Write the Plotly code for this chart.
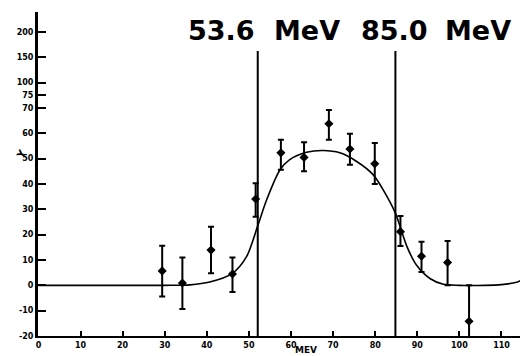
import plotly.graph_objects as go

# measured points (MeV, counts) with asymmetric error bars
x_pts = [29.4, 34.2, 41.0, 46.1, 51.6, 57.6, 63.1, 69.0, 74.0, 79.9, 86.0, 91.0, 97.2, 102.3]
y_pts = [5.7, 0.9, 13.9, 4.5, 34.1, 52.3, 50.5, 63.8, 53.8, 48.0, 21.2, 11.5, 9.0, -14.2]
err_up = [9.9, 10.1, 9.2, 6.5, 6.2, 5.2, 6.0, 5.4, 6.0, 8.2, 6.2, 5.7, 8.5, 14.2]
err_dn = [10.1, 10.2, 9.1, 7.1, 7.0, 6.7, 5.5, 6.3, 6.2, 8.0, 5.7, 6.2, 9.0, 20.0]

# fitted curve
x_fit = [0, 10, 20, 30, 36, 40.7, 46.0, 49.4, 52.1, 54.2, 57.4, 59.7, 63.7, 67.6, 71.6,
         75.6, 79.5, 81.9, 84.8, 87.5, 89.8, 93.0, 96.2, 100, 106, 110, 113.6, 114.5]
y_fit = [0, 0, 0, 0, 0.2, 1.3, 4.6, 11.2, 23.5, 33.7, 45.6, 49.6, 52.5, 53.2, 52.3,
         48.9, 43.7, 37.7, 28.5, 15.5, 8.0, 2.7, 0.4, 0, 0, 0.3, 1.2, 1.8]

# vertical markers
v_lines = [52.1, 84.8]
v_top = 92.5

# broken y axis: real values and their positions on the compressed axis
y_tick_pos = [-20, -10, 0, 10, 20, 30, 40, 50, 60, 70, 75, 80, 90, 100]
y_tick_txt = ["-20", "-10", "0", "10", "20", "30", "40", "50", "60", "70", "75", "100", "150", "200"]
x_tick_vals = [0, 10, 20, 30, 40, 50, 60, 70, 80, 90, 100, 110]

fig = go.Figure()

fig.add_trace(go.Scatter(
    x=x_fit, y=y_fit, mode="lines",
    line=dict(color="black", width=1.6, shape="spline", smoothing=0.8),
    hoverinfo="skip", showlegend=False))

fig.add_trace(go.Scatter(
    x=x_pts, y=y_pts, mode="markers",
    marker=dict(symbol="diamond", size=7, color="black"),
    error_y=dict(type="data", symmetric=False, array=err_up, arrayminus=err_dn,
                 color="black", thickness=2, width=3),
    showlegend=False))

for vx in v_lines:
    fig.add_shape(type="line", x0=vx, x1=vx, y0=-20, y1=v_top,
                  xref="x", yref="y", line=dict(color="black", width=2))

L, T, W, H = 38, 12, 482, 324

def px(xp):
    return (xp - L) / W

def py(yp):
    return (T + H - yp) / H

title_font = dict(family="DejaVu Sans", size=27, color="black", weight="bold")
for txt, cx in [("53.6", 221.5), ("MeV", 306.5), ("85.0", 394), ("MeV", 477.5)]:
    fig.add_annotation(text=txt, x=px(cx), y=py(30), xref="paper", yref="paper",
                       showarrow=False, xanchor="center", yanchor="middle", font=title_font)

fig.add_annotation(text="MEV", x=px(306), y=py(350), xref="paper", yref="paper",
                   showarrow=False, xanchor="center", yanchor="middle", borderpad=0,
                   font=dict(family="DejaVu Sans", size=9, color="black", weight="bold"))
fig.add_annotation(text="Y", x=px(12), y=py(154), xref="paper", yref="paper",
                   showarrow=False, textangle=-60,
                   font=dict(family="DejaVu Sans", size=10, color="black", weight="bold"))

tick_font = dict(family="DejaVu Sans", size=8, color="black", weight="bold")

fig.update_layout(
    width=520, height=356,
    margin=dict(l=L, r=0, t=T, b=20),
    paper_bgcolor="white", plot_bgcolor="white",
    xaxis=dict(range=[-0.1, 114.4], showgrid=False, zeroline=False,
               showline=True, linecolor="black", linewidth=2,
               tickmode="array", tickvals=x_tick_vals,
               ticks="inside", ticklen=5, tickwidth=2, tickcolor="black",
               tickfont=tick_font),
    yaxis=dict(range=[-20, 107.9], showgrid=False, zeroline=False,
               showline=True, linecolor="black", linewidth=3,
               tickmode="array", tickvals=y_tick_pos, ticktext=y_tick_txt,
               ticks="inside", ticklen=8, tickwidth=2, tickcolor="black",
               tickfont=tick_font),
)

fig.write_html("out.html", config={"displayModeBar": False},
               post_script="document.body.style.margin='0';")
